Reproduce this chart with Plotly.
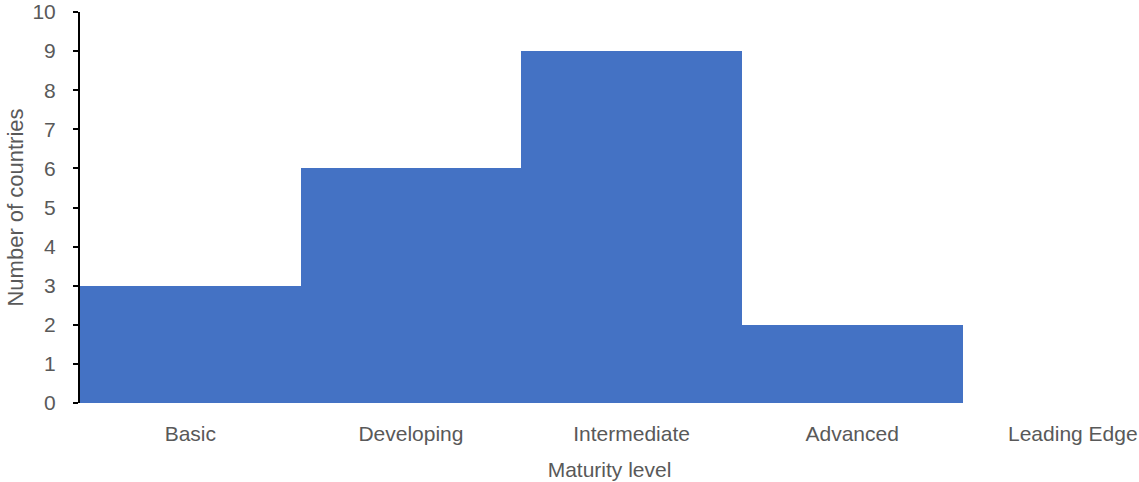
import plotly.graph_objects as go

categories = ["Basic", "Developing", "Intermediate", "Advanced", "Leading Edge"]
counts = [3, 6, 9, 2, 0]
y_ticks = list(range(0, 11))

font_color = "#595959"
fig = go.Figure(go.Bar(x=categories, y=counts, marker=dict(color="#4472C4", line=dict(width=0))))

fig.update_layout(
    width=1139, height=482,
    margin=dict(l=80, r=0, t=12, b=79),
    paper_bgcolor="white", plot_bgcolor="white",
    bargap=0,
    font=dict(family="Liberation Sans, Arial, sans-serif", size=21, color=font_color),
    showlegend=False,
)
fig.update_xaxes(
    type="category", range=[-0.5, 4.3], showgrid=False, showline=False, zeroline=False,
    ticks="", tickfont=dict(size=21, color=font_color), ticklabelstandoff=16,
    automargin=False,
    title=dict(text="Maturity level", font=dict(size=21, color=font_color), standoff=18),
)
fig.update_yaxes(
    range=[0, 10], tickvals=y_ticks, showgrid=False, zeroline=False,
    showline=True, linecolor="black", linewidth=2,
    ticks="outside", ticklen=5, tickwidth=2, tickcolor="black",
    tickfont=dict(size=21, color=font_color), ticklabelstandoff=13,
    ticklabeloverflow="allow",
    automargin=False,
    title=dict(text="Number of countries", font=dict(size=22, color=font_color), standoff=3),
)
# remove the browser's default 8px body margin so the figure fills the window exactly
fig.write_html("out.html", config={"displayModeBar": False},
               post_script="document.body.style.margin='0';")
